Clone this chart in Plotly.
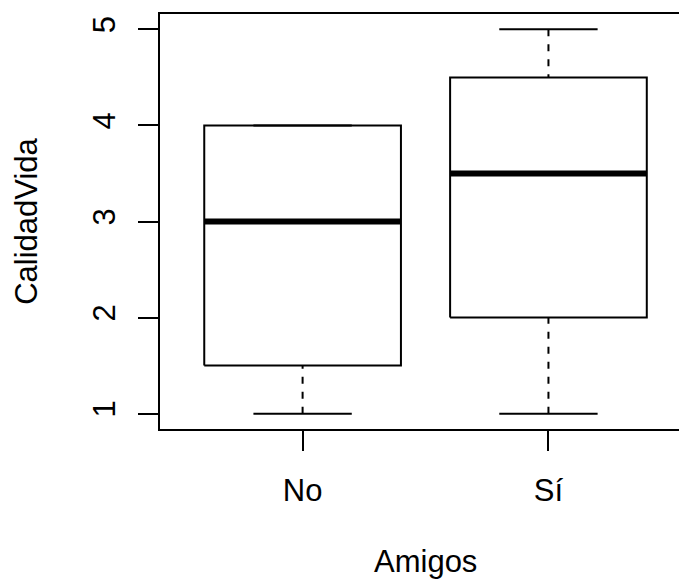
import plotly.graph_objects as go

categories = ["No", "Sí"]
lower_whisker = [1, 1]
q1 = [1.5, 2]
median = [3, 3.5]
q3 = [4, 4.5]
upper_whisker = [4, 5]
y_ticks = [1, 2, 3, 4, 5]
x_title = "Amigos"
y_title = "CalidadVida"

box_half = 0.4
cap_half = 0.2
FONT = "Liberation Sans, Arial, Helvetica, sans-serif"
FS = 31

fig = go.Figure()
for i, cat in enumerate(categories):
    xc = i + 1
    # dashed whiskers (from cap toward box, like R)
    fig.add_trace(go.Scatter(
        x=[xc, xc, None, xc, xc],
        y=[upper_whisker[i], q3[i], None, lower_whisker[i], q1[i]],
        mode="lines", line=dict(color="black", width=2, dash="7px,8px"),
        hoverinfo="skip", showlegend=False))
    # caps
    fig.add_trace(go.Scatter(
        x=[xc - cap_half, xc + cap_half, None, xc - cap_half, xc + cap_half],
        y=[upper_whisker[i], upper_whisker[i], None, lower_whisker[i], lower_whisker[i]],
        mode="lines", line=dict(color="black", width=2),
        hoverinfo="skip", showlegend=False))
    # box
    fig.add_trace(go.Scatter(
        x=[xc - box_half, xc + box_half, xc + box_half, xc - box_half, xc - box_half],
        y=[q1[i], q1[i], q3[i], q3[i], q1[i]],
        mode="lines", line=dict(color="black", width=2),
        name=cat, showlegend=False))
    # median
    fig.add_trace(go.Scatter(
        x=[xc - box_half, xc + box_half],
        y=[median[i], median[i]],
        mode="lines", line=dict(color="black", width=6),
        hoverinfo="skip", showlegend=False))

# R-style plot region spans 0.42..2.58 (the right part is cut by the window)
x_mid = (0.42 + 2.58) / 2

fig.update_layout(
    width=679, height=581,
    margin=dict(l=160, r=0, t=14, b=152),
    plot_bgcolor="white", paper_bgcolor="white",
    font=dict(family=FONT, size=FS, color="black"),
    xaxis=dict(
        range=[0.42, 2.531], tickvals=[1, 2], ticktext=categories,
        showgrid=False, zeroline=False,
        showline=True, linecolor="black", linewidth=2, mirror=True,
        ticks="outside", ticklen=20, tickwidth=2, tickcolor="black",
        tickfont=dict(size=FS), ticklabelstandoff=13,
        automargin=False,
    ),
    yaxis=dict(
        range=[0.84, 5.16], tickvals=y_ticks,
        showgrid=False, zeroline=False,
        showline=True, linecolor="black", linewidth=2, mirror=False,
        ticks="outside", ticklen=20, tickwidth=2, tickcolor="black",
        tickangle=-90, tickfont=dict(size=FS), ticklabelstandoff=11,
        title=dict(text=y_title, standoff=40, font=dict(size=FS)),
        automargin=False,
    ),
    annotations=[dict(
        text=x_title, xref="x", x=x_mid, yref="paper", y=0,
        yanchor="middle", yshift=-132, showarrow=False,
        font=dict(size=FS, family=FONT, color="black"),
    )],
)

fig.write_html("out.html")
